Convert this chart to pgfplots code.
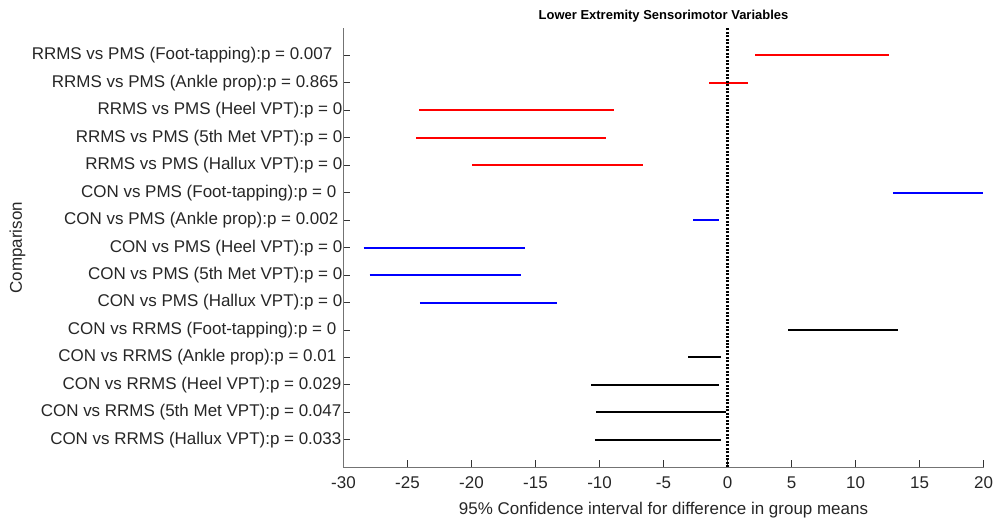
\documentclass[border=0pt]{standalone}
\usepackage{pgfplots}
\pgfplotsset{compat=1.18}
\usepackage{fontspec}
\setmainfont{Liberation Sans}

\begin{document}
\begin{tikzpicture}
\begin{axis}[
    scale only axis, width=641pt, height=440pt,
    xmin=-30, xmax=20, ymin=0, ymax=16,
    axis lines=left,
    axis line style={-, black!55, line width=0.9pt},
    xtick={-30,-25,...,20},
    xticklabels={-30,-25,-20,-15,-10,-5,0,5,10,15,20},
    ytick={1,...,15},
    yticklabels={
        CON vs RRMS (Hallux VPT):p = 0.033\kern1pt,
        CON vs RRMS (5th Met VPT):p = 0.047\kern1pt,
        CON vs RRMS (Heel VPT):p = 0.029\kern1pt,
        CON vs RRMS (Ankle prop):p = 0.01\kern6pt,
        CON vs RRMS (Foot-tapping):p = 0\kern6pt,
        CON vs PMS (Hallux VPT):p = 0,
        CON vs PMS (5th Met VPT):p = 0,
        CON vs PMS (Heel VPT):p = 0,
        CON vs PMS (Ankle prop):p = 0.002\kern4pt,
        CON vs PMS (Foot-tapping):p = 0\kern6pt,
        RRMS vs PMS (Hallux VPT):p = 0,
        RRMS vs PMS (5th Met VPT):p = 0,
        RRMS vs PMS (Heel VPT):p = 0,
        RRMS vs PMS (Ankle prop):p = 0.865\kern4pt,
        RRMS vs PMS (Foot-tapping):p = 0.007\kern10pt},
    tick align=inside,
    major tick length=7pt,
    tick style={black!80, line width=0.9pt},
    ticklabel style={font=\fontsize{17}{20}\selectfont, text=black!85},
    yticklabel style={inner sep=0pt, xshift=-1pt},
    xticklabel style={inner sep=0pt, yshift=-9pt},
    xlabel={95\% Confidence interval for difference in group means},
    ylabel={Comparison},
    label style={font=\fontsize{17}{20}\selectfont, text=black!85},
    xlabel style={yshift=-10pt},
    ylabel style={yshift=3pt},
    title={Lower Extremity Sensorimotor Variables},
    title style={font=\bfseries\fontsize{13}{15}\selectfont, yshift=-4pt},
    unbounded coords=jump,
    clip=false,
]
\coordinate (bl) at (rel axis cs:0,0);
\coordinate (tr) at (rel axis cs:1,1);
% RRMS vs PMS
\addplot[red, line width=2pt] coordinates {
    (2.15,15) (12.6,15) (nan,nan)
    (-1.44,14) (1.63,14) (nan,nan)
    (-24.08,13) (-8.89,13) (nan,nan)
    (-24.3,12) (-9.46,12) (nan,nan)
    (-19.95,11) (-6.62,11)
};
% CON vs PMS
\addplot[blue, line width=2pt] coordinates {
    (12.92,10) (19.92,10) (nan,nan)
    (-2.67,9) (-0.66,9) (nan,nan)
    (-28.43,8) (-15.81,8) (nan,nan)
    (-27.96,7) (-16.15,7) (nan,nan)
    (-24.03,6) (-13.31,6)
};
% CON vs RRMS
\addplot[black, line width=2pt] coordinates {
    (4.75,5) (13.31,5) (nan,nan)
    (-3.08,4) (-0.48,4) (nan,nan)
    (-10.63,3) (-0.66,3) (nan,nan)
    (-10.24,2) (-0.09,2) (nan,nan)
    (-10.37,1) (-0.48,1)
};
\addplot[black, line width=2.5pt, dash pattern=on 2pt off 1.5pt] coordinates {(0,0) (0,16)};
\end{axis}
\path ([shift={(-344pt,-51pt)}]bl) rectangle ([shift={(8pt,28pt)}]tr);
\end{tikzpicture}
\end{document}
